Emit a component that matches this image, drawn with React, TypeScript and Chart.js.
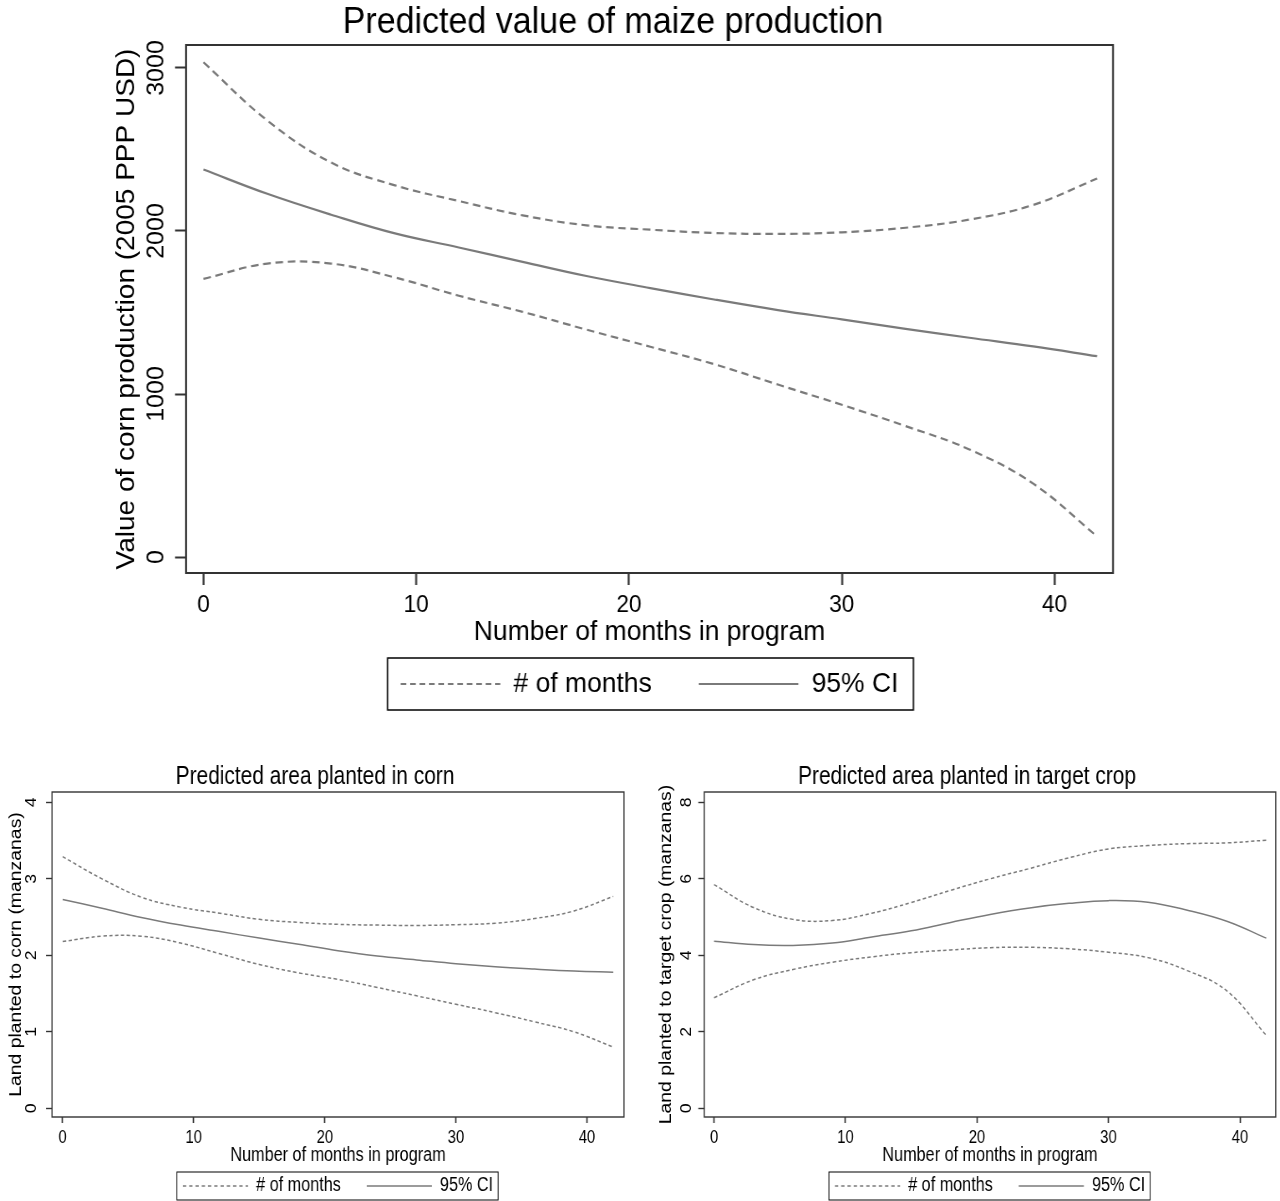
import React, { useEffect, useRef } from 'react';
import { Chart, registerables } from 'chart.js';

Chart.register(...registerables);

// ---------- data ----------
const months = [0, 3, 6, 9, 12, 15, 18, 21, 24, 27, 30, 33, 36, 39, 42];
const xTickValues = [0, 10, 20, 30, 40];

// Predicted value of maize production
const maizeUpper = [3035, 2678, 2420, 2280, 2184, 2096, 2035, 2008, 1988, 1982, 1992, 2020, 2070, 2160, 2322];
const maizePredicted = [2377, 2228, 2100, 1985, 1899, 1811, 1724, 1650, 1580, 1515, 1458, 1400, 1345, 1292, 1232];
const maizeLower = [1706, 1800, 1800, 1715, 1603, 1504, 1395, 1290, 1183, 1058, 934, 803, 660, 450, 127];
const maizeYTicks = [0, 1000, 2000, 3000];

// Predicted area planted in corn
const cornUpper = [3.29, 3.0, 2.76, 2.63, 2.55, 2.47, 2.43, 2.405, 2.395, 2.39, 2.4, 2.42, 2.48, 2.58, 2.77];
const cornPredicted = [2.73, 2.615, 2.495, 2.395, 2.31, 2.225, 2.145, 2.06, 1.99, 1.94, 1.89, 1.85, 1.82, 1.795, 1.78];
const cornLower = [2.18, 2.25, 2.25, 2.16, 2.02, 1.88, 1.77, 1.685, 1.58, 1.47, 1.36, 1.25, 1.13, 1.0, 0.8];
const cornYTicks = [0, 1, 2, 3, 4];

// Predicted area planted in target crop
const targetUpper = [5.85, 5.25, 4.94, 4.91, 5.1, 5.38, 5.7, 6.0, 6.27, 6.55, 6.78, 6.87, 6.92, 6.94, 7.01];
const targetPredicted = [4.37, 4.28, 4.26, 4.32, 4.48, 4.64, 4.86, 5.07, 5.24, 5.36, 5.43, 5.39, 5.18, 4.89, 4.45];
const targetLower = [2.89, 3.36, 3.63, 3.82, 3.96, 4.07, 4.14, 4.2, 4.21, 4.17, 4.08, 3.94, 3.6, 3.07, 1.91];
const targetYTicks = [0, 2, 4, 6, 8];

const legendLabels = ['# of months', '95% CI'];

// ---------- styling ----------
const FONT = "'Liberation Sans', Arial, Helvetica, sans-serif";
const LINE = '#7a7a7a';
const AXIS = '#333333';

type Spec = any;

// Horizontal layout numbers are in page pixels; the canvas is drawn wider
// (internalWidth) and squeezed horizontally to the page width, like the reference.
const topSpec: Spec = {
  left: 0, top: 0, width: 1280, internalWidth: 1355, height: 720,
  title: 'Predicted value of maize production',
  yTitle: 'Value of corn production (2005 PPP USD)',
  xTitle: 'Number of months in program',
  upper: maizeUpper, mid: maizePredicted, lower: maizeLower,
  yTicks: maizeYTicks,
  xMin: -0.82, xMax: 42.75, yMin: -98, yMax: 3141,
  chartTop: 45, chartBottom: 573,
  titleY: 23, titleFont: 36,
  padLeft: 113, padRight: 167, yWidth: 73,
  yTitleX: 127, yTitleFont: 28,
  yTickX: 157, yTickFont: 25, yTickLen: 11,
  xTickY: 605, xTickFont: 24, xTickLen: 12,
  xTitleY: 632, xTitleFont: 28,
  legendTextY: 684, legendFont: 28, legendPad: 49.75, legendBoxW: 105.5,
  legendMargin: [13, 15], legendBoxH: 52, legendBorder: 1.5,
  frameWidth: 2, lineWidth: 2.2, dash: [8, 5], legendDash: [6, 4],
};

const cornSpec: Spec = {
  left: 0, top: 760, width: 640, internalWidth: 766, height: 446,
  title: 'Predicted area planted in corn',
  yTitle: 'Land planted to corn (manzanas)',
  xTitle: 'Number of months in program',
  upper: cornUpper, mid: cornPredicted, lower: cornLower,
  yTicks: cornYTicks,
  xMin: -0.81, xMax: 42.82, yMin: -0.114, yMax: 4.135,
  chartTop: 32, chartBottom: 357,
  titleY: 17, titleFont: 25,
  padLeft: 6, padRight: 16, yWidth: 46,
  yTitleX: 16.7, yTitleFont: 19.4,
  yTickX: 31.7, yTickFont: 17.8, yTickLen: 6,
  xTickY: 378, xTickFont: 17.8, xTickLen: 6,
  xTitleY: 395.5, xTitleFont: 19.4,
  legendTextY: 426, legendFont: 19.4, legendPad: 31, legendBoxW: 78,
  legendMargin: [6, 5], legendBoxH: 28, legendBorder: 1,
  frameWidth: 1.4, lineWidth: 1.5, dash: [4, 3], legendDash: [4, 3.5],
};

const targetSpec: Spec = {
  ...cornSpec,
  left: 640,
  title: 'Predicted area planted in target crop',
  yTitle: 'Land planted to target crop (manzanas)',
  upper: targetUpper, mid: targetPredicted, lower: targetLower,
  yTicks: targetYTicks,
  xMin: -0.74, xMax: 42.72, yMin: -0.227, yMax: 8.27,
  padLeft: 18.3, padRight: 4.3,
  yTitleX: 26.7, yTickX: 46.7,
};

function points(values: number[]) {
  return months.map((m, i) => ({ x: m, y: values[i] }));
}

function textWidth(text: string, size: number) {
  const c = document.createElement('canvas').getContext('2d') as CanvasRenderingContext2D;
  c.font = `${size}px ${FONT}`;
  return c.measureText(text).width;
}

function buildConfig(s: Spec): any {
  const sx = s.width / s.internalWidth;
  const k = 1 / sx;
  const padLeft = s.padLeft * k;
  const padRight = s.padRight * k;
  const yWidth = s.yWidth * k;
  const yTickLen = s.yTickLen * k;
  const widest = Math.max(...s.yTicks.map((v: number) => textWidth(String(v), s.yTickFont)));
  const yTickPad = padLeft + yWidth - yTickLen - widest / 2 - s.yTickX * k;
  const yTitlePad = s.yTitleX * k - padLeft - s.yTitleFont / 2;

  const titleLH = s.titleFont * 1.2;
  const titlePadTop = s.titleY - titleLH / 2;
  const titlePadBottom = s.chartTop - titleLH - titlePadTop;

  const legendTop = s.legendTextY - s.legendPad - s.legendFont / 2;
  const legendBottom = legendTop + s.legendFont + s.legendPad + 10;
  const padBottom = s.height - legendBottom;
  const xHeight = legendTop - s.chartBottom;
  const xTickPad = s.xTickY - s.chartBottom - s.xTickLen - (s.xTickFont * 1.2) / 2;
  const xTitlePadBottom = legendTop - (s.xTitleFont * 1.2) / 2 - s.xTitleY;

  const framePlugin = {
    id: 'stataFrame',
    afterDraw(chart: any) {
      const { ctx, chartArea: a } = chart;
      ctx.save();
      ctx.setLineDash([]);
      ctx.strokeStyle = AXIS;
      ctx.lineWidth = s.frameWidth;
      ctx.strokeRect(a.left, a.top, a.right - a.left, a.bottom - a.top);
      const hb = chart.legend && chart.legend.legendHitBoxes;
      if (hb && hb.length) {
        const last = hb[hb.length - 1];
        const l = hb[0].left - s.legendMargin[0] * k;
        const r = last.left + last.width + s.legendMargin[1] * k;
        const cy = hb[0].top + hb[0].height / 2;
        ctx.strokeStyle = '#000';
        ctx.lineWidth = s.legendBorder;
        ctx.strokeRect(l, cy - s.legendBoxH / 2, r - l, s.legendBoxH);
      }
      ctx.restore();
    },
  };

  const ds = (label: string, values: number[], dash: number[]) => ({
    label,
    data: points(values),
    borderColor: LINE,
    backgroundColor: LINE,
    borderWidth: s.lineWidth,
    borderDash: dash,
    pointRadius: 0,
    pointHoverRadius: 0,
    fill: false,
    tension: 0.4,
  });

  return {
    type: 'line',
    data: {
      datasets: [
        ds(legendLabels[0], s.upper, s.dash),
        ds(legendLabels[1], s.mid, []),
        ds('lower bound', s.lower, s.dash),
      ],
    },
    plugins: [framePlugin],
    options: {
      animation: false,
      responsive: false,
      maintainAspectRatio: false,
      layout: { padding: { left: padLeft, right: padRight, top: 0, bottom: padBottom } },
      events: [],
      plugins: {
        tooltip: { enabled: false },
        title: {
          display: true,
          text: s.title,
          color: '#000',
          fullSize: true,
          font: { family: FONT, size: s.titleFont, weight: 'normal', lineHeight: 1.2 },
          padding: { top: titlePadTop, bottom: titlePadBottom },
        },
        legend: {
          display: true,
          position: 'bottom',
          fullSize: false,
          align: 'center',
          labels: {
            usePointStyle: true,
            pointStyle: 'line',
            pointStyleWidth: s.legendBoxW,
            boxWidth: s.legendBoxW,
            padding: s.legendPad,
            color: '#000',
            font: { family: FONT, size: s.legendFont },
            generateLabels: (chart: any) => {
              const items = Chart.defaults.plugins.legend.labels.generateLabels(chart);
              return items
                .filter((it: any) => it.datasetIndex !== 2)
                .map((it: any) => (it.datasetIndex === 0 ? { ...it, lineDash: s.legendDash } : it));
            },
          },
        },
      },
      scales: {
        x: {
          type: 'linear',
          position: 'bottom',
          min: s.xMin,
          max: s.xMax,
          afterBuildTicks: (scale: any) => {
            scale.ticks = xTickValues.map((v) => ({ value: v }));
          },
          afterFit: (scale: any) => {
            scale.height = xHeight;
          },
          border: { display: false },
          grid: {
            display: true,
            drawOnChartArea: false,
            drawTicks: true,
            tickLength: s.xTickLen,
            tickColor: AXIS,
            tickWidth: s.frameWidth * k,
            color: AXIS,
          },
          ticks: {
            autoSkip: false,
            maxRotation: 0,
            minRotation: 0,
            padding: xTickPad,
            color: '#000',
            font: { family: FONT, size: s.xTickFont, lineHeight: 1.2 },
            callback: (v: any) => String(v),
          },
          title: {
            display: true,
            text: s.xTitle,
            color: '#000',
            font: { family: FONT, size: s.xTitleFont, lineHeight: 1.2 },
            padding: { top: 0, bottom: xTitlePadBottom },
          },
        },
        y: {
          type: 'linear',
          position: 'left',
          min: s.yMin,
          max: s.yMax,
          afterBuildTicks: (scale: any) => {
            scale.ticks = s.yTicks.map((v: number) => ({ value: v }));
          },
          afterFit: (scale: any) => {
            scale.width = yWidth;
          },
          border: { display: false },
          grid: {
            display: true,
            drawOnChartArea: false,
            drawTicks: true,
            tickLength: yTickLen,
            tickColor: AXIS,
            tickWidth: s.frameWidth,
            color: AXIS,
          },
          ticks: {
            autoSkip: false,
            minRotation: 90,
            maxRotation: 90,
            crossAlign: 'center',
            padding: yTickPad,
            color: '#000',
            font: { family: FONT, size: s.yTickFont, lineHeight: 1.2 },
            callback: (v: any) => String(v),
          },
          title: {
            display: true,
            text: s.yTitle,
            color: '#000',
            font: { family: FONT, size: s.yTitleFont, lineHeight: 1 },
            padding: { top: yTitlePad, bottom: 0 },
          },
        },
      },
    },
  };
}

function StataPanel({ spec }: { spec: Spec }) {
  const ref = useRef<HTMLCanvasElement>(null);
  useEffect(() => {
    const chart = new Chart(ref.current as HTMLCanvasElement, buildConfig(spec));
    return () => chart.destroy();
  }, [spec]);
  const sx = spec.width / spec.internalWidth;
  return (
    <canvas
      ref={ref}
      width={spec.internalWidth}
      height={spec.height}
      style={{
        position: 'absolute',
        left: spec.left,
        top: spec.top,
        width: spec.internalWidth,
        height: spec.height,
        transform: `scaleX(${sx})`,
        transformOrigin: '0 0',
      }}
    />
  );
}

export default function App() {
  useEffect(() => {
    document.body.style.margin = '0';
    document.body.style.overflow = 'hidden';
    document.body.style.background = '#ffffff';
  }, []);
  return (
    <div style={{ position: 'relative', width: 1280, height: 1201, overflow: 'hidden', background: '#ffffff' }}>
      <StataPanel spec={topSpec} />
      <StataPanel spec={cornSpec} />
      <StataPanel spec={targetSpec} />
    </div>
  );
}
